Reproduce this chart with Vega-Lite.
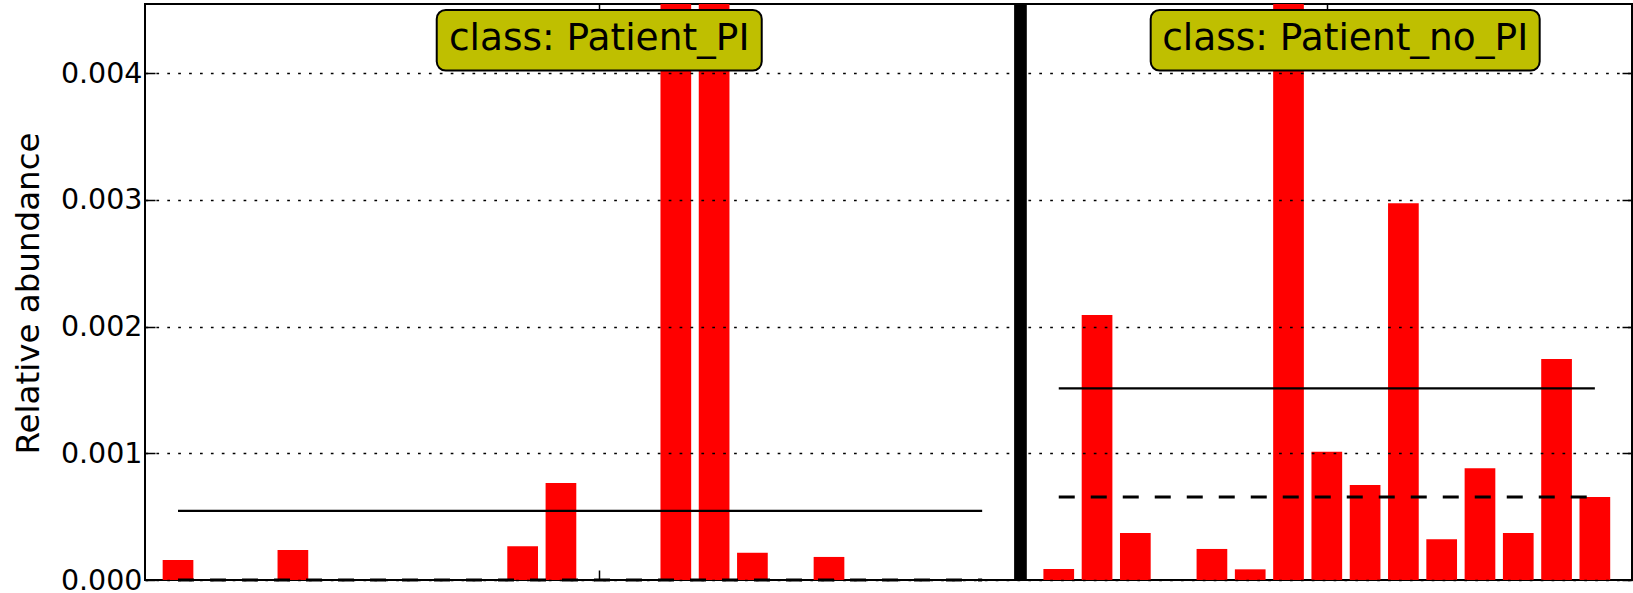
{
  "$schema": "https://vega.github.io/schema/vega-lite/v6.json",
  "width": 1487,
  "height": 576,
  "autosize": {"type": "none"},
  "padding": {"left": 145, "top": 4, "right": 1, "bottom": 13},
  "background": "white",
  "config": {
    "font": "DejaVu Sans",
    "view": {"stroke": "black", "strokeWidth": 2},
    "axis": {"tickColor": "black", "tickWidth": 1.5, "labelColor": "black", "titleColor": "black"}
  },
  "datasets": {
    "bars": [
      {"panel": "Patient_PI", "idx": 0, "value": 0.000158},
      {"panel": "Patient_PI", "idx": 1, "value": 0},
      {"panel": "Patient_PI", "idx": 2, "value": 0},
      {"panel": "Patient_PI", "idx": 3, "value": 0.000237},
      {"panel": "Patient_PI", "idx": 4, "value": 0},
      {"panel": "Patient_PI", "idx": 5, "value": 0},
      {"panel": "Patient_PI", "idx": 6, "value": 0},
      {"panel": "Patient_PI", "idx": 7, "value": 0},
      {"panel": "Patient_PI", "idx": 8, "value": 0},
      {"panel": "Patient_PI", "idx": 9, "value": 0.000266},
      {"panel": "Patient_PI", "idx": 10, "value": 0.000766},
      {"panel": "Patient_PI", "idx": 11, "value": 0},
      {"panel": "Patient_PI", "idx": 12, "value": 0},
      {"panel": "Patient_PI", "idx": 13, "value": 0.0053},
      {"panel": "Patient_PI", "idx": 14, "value": 0.004888},
      {"panel": "Patient_PI", "idx": 15, "value": 0.000215},
      {"panel": "Patient_PI", "idx": 16, "value": 0},
      {"panel": "Patient_PI", "idx": 17, "value": 0.000182},
      {"panel": "Patient_PI", "idx": 18, "value": 0},
      {"panel": "Patient_PI", "idx": 19, "value": 0},
      {"panel": "Patient_PI", "idx": 20, "value": 0},
      {"panel": "Patient_PI", "idx": 21, "value": 0},
      {"panel": "Patient_no_PI", "idx": 23, "value": 0.0000868},
      {"panel": "Patient_no_PI", "idx": 24, "value": 0.002092},
      {"panel": "Patient_no_PI", "idx": 25, "value": 0.000371},
      {"panel": "Patient_no_PI", "idx": 26, "value": 0},
      {"panel": "Patient_no_PI", "idx": 27, "value": 0.000245},
      {"panel": "Patient_no_PI", "idx": 28, "value": 0.0000842},
      {"panel": "Patient_no_PI", "idx": 29, "value": 0.011105},
      {"panel": "Patient_no_PI", "idx": 30, "value": 0.001013},
      {"panel": "Patient_no_PI", "idx": 31, "value": 0.00075},
      {"panel": "Patient_no_PI", "idx": 32, "value": 0.002974},
      {"panel": "Patient_no_PI", "idx": 33, "value": 0.000321},
      {"panel": "Patient_no_PI", "idx": 34, "value": 0.000882},
      {"panel": "Patient_no_PI", "idx": 35, "value": 0.000371},
      {"panel": "Patient_no_PI", "idx": 36, "value": 0.001745},
      {"panel": "Patient_no_PI", "idx": 37, "value": 0.000655}
    ],
    "divider": [{"idx": 22}],
    "labels": [
      {"side": "left", "label": "class: Patient_PI", "mid": 11},
      {"side": "right", "label": "class: Patient_no_PI", "mid": 30.48}
    ]
  },
  "resolve": {"axis": {"x": "independent", "y": "independent"}},
  "layer": [
    {
      "data": {"name": "bars"},
      "mark": {"type": "bar", "color": "#ff0000", "width": 30.7, "orient": "vertical", "clip": true},
      "encoding": {
        "x": {
          "field": "idx", "type": "quantitative",
          "scale": {"domain": [-0.862, 37.97], "nice": false, "zero": false, "padding": 0},
          "axis": {"orient": "bottom", "values": [11, 30], "labels": false, "grid": false, "domain": false, "tickSize": -10, "title": null}
        },
        "y": {
          "field": "value", "type": "quantitative",
          "scale": {"domain": [0, 0.004546], "nice": false},
          "axis": {
            "orient": "left", "values": [0, 0.001, 0.002, 0.003, 0.004], "format": ".3f",
            "grid": true, "gridColor": "black", "gridDash": [2.7, 8.2], "gridWidth": 1.5, "gridOpacity": 1,
            "domain": false, "tickSize": -10, "labelFontSize": 28.5, "labelPadding": 13,
            "title": "Relative abundance", "titleFontSize": 32.5, "titleFontWeight": "normal",
            "titleX": -107, "titleY": 289, "titleAngle": -90, "titleAlign": "center", "titleBaseline": "alphabetic",
            "zindex": 1
          }
        }
      }
    },
    {
      "data": {"name": "divider"},
      "mark": {"type": "rule", "color": "black", "strokeWidth": 12.7},
      "encoding": {
        "x": {
          "field": "idx", "type": "quantitative",
          "scale": {"domain": [-0.862, 37.97], "nice": false, "zero": false, "padding": 0},
          "axis": {"orient": "top", "values": [11, 30], "labels": false, "grid": false, "domain": false, "tickSize": -10, "title": null}
        }
      }
    },
    {
      "data": {"name": "bars"},
      "transform": [
        {"aggregate": [
          {"op": "mean", "field": "value", "as": "mean"},
          {"op": "min", "field": "idx", "as": "x0"},
          {"op": "max", "field": "idx", "as": "x1"}
        ], "groupby": ["panel"]}
      ],
      "mark": {"type": "rule", "color": "black", "strokeWidth": 2.2},
      "encoding": {
        "x": {"field": "x0", "type": "quantitative", "scale": {"domain": [-0.862, 37.97], "nice": false, "zero": false, "padding": 0}, "axis": null},
        "x2": {"field": "x1"},
        "y": {
          "field": "mean", "type": "quantitative",
          "scale": {"domain": [0, 0.004546], "nice": false},
          "axis": {"orient": "right", "values": [0, 0.001, 0.002, 0.003, 0.004], "labels": false, "grid": false, "domain": false, "tickSize": -10, "title": null}
        }
      }
    },
    {
      "data": {"name": "bars"},
      "transform": [
        {"aggregate": [
          {"op": "median", "field": "value", "as": "median"},
          {"op": "min", "field": "idx", "as": "x0"},
          {"op": "max", "field": "idx", "as": "x1"}
        ], "groupby": ["panel"]}
      ],
      "mark": {"type": "rule", "color": "black", "strokeWidth": 2.8, "strokeDash": [16, 16]},
      "encoding": {
        "x": {"field": "x0", "type": "quantitative", "scale": {"domain": [-0.862, 37.97], "nice": false, "zero": false, "padding": 0}, "axis": null},
        "x2": {"field": "x1"},
        "y": {"field": "median", "type": "quantitative", "scale": {"domain": [0, 0.004546], "nice": false}, "axis": null}
      }
    },
    {
      "data": {"name": "labels"},
      "transform": [{"filter": "datum.side == 'left'"}],
      "mark": {"type": "rect", "width": 325, "height": 60.7, "cornerRadius": 9, "fill": "#bfbf00", "stroke": "black", "strokeWidth": 2},
      "encoding": {
        "x": {"field": "mid", "type": "quantitative", "scale": {"domain": [-0.862, 37.97], "nice": false, "zero": false, "padding": 0}, "axis": null},
        "y": {"datum": 0.00426, "type": "quantitative", "scale": {"domain": [0, 0.004546], "nice": false}, "axis": null}
      }
    },
    {
      "data": {"name": "labels"},
      "transform": [{"filter": "datum.side == 'right'"}],
      "mark": {"type": "rect", "width": 389, "height": 60.7, "cornerRadius": 9, "fill": "#bfbf00", "stroke": "black", "strokeWidth": 2},
      "encoding": {
        "x": {"field": "mid", "type": "quantitative", "scale": {"domain": [-0.862, 37.97], "nice": false, "zero": false, "padding": 0}, "axis": null},
        "y": {"datum": 0.00426, "type": "quantitative", "scale": {"domain": [0, 0.004546], "nice": false}, "axis": null}
      }
    },
    {
      "data": {"name": "labels"},
      "mark": {"type": "text", "fontSize": 37.5, "baseline": "alphabetic", "align": "center", "color": "black"},
      "encoding": {
        "x": {"field": "mid", "type": "quantitative", "scale": {"domain": [-0.862, 37.97], "nice": false, "zero": false, "padding": 0}, "axis": null},
        "y": {"datum": 0.004183, "type": "quantitative", "scale": {"domain": [0, 0.004546], "nice": false}, "axis": null},
        "text": {"field": "label"}
      }
    }
  ]
}
